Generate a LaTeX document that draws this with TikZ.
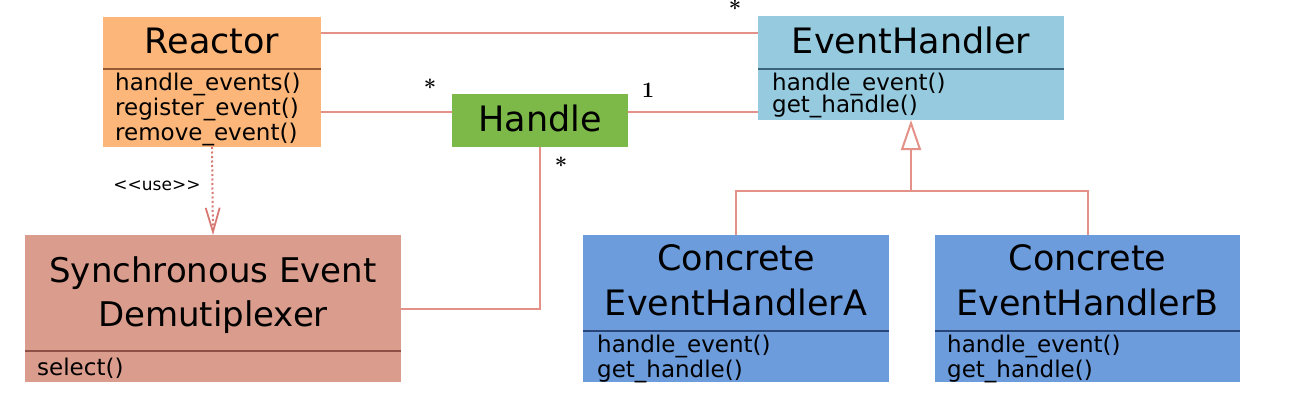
\documentclass[tikz,border=0pt]{standalone}
\usepackage{fontspec}
\newfontfamily\cs{DejaVu Sans}
\usetikzlibrary{arrows.meta}
\definecolor{reactorC}{RGB}{252,182,122}
\definecolor{reactorS}{RGB}{150,90,50}
\definecolor{handleC}{RGB}{124,185,72}
\definecolor{ehC}{RGB}{150,202,222}
\definecolor{ehS}{RGB}{60,100,120}
\definecolor{syncC}{RGB}{218,156,140}
\definecolor{syncS}{RGB}{140,80,70}
\definecolor{concC}{RGB}{108,156,220}
\definecolor{concS}{RGB}{40,70,120}
\definecolor{lineC}{RGB}{228,145,135}
\definecolor{dotC}{RGB}{215,120,115}
\begin{document}
\begin{tikzpicture}[x=1pt,y=-1pt,
  box/.style={draw=none, inner sep=0pt, outer sep=0pt},
  titletext/.style={font=\cs\fontsize{35}{40}\selectfont, anchor=base, inner sep=0pt},
  methtext/.style={font=\cs\fontsize{23}{26}\selectfont, anchor=base west, inner sep=0pt},
  conn/.style={draw=lineC, line width=2pt},
  sepline/.style={line width=1.5pt},
  multlabel/.style={font=\bfseries\fontsize{22}{24}\selectfont, inner sep=0pt}]
\useasboundingbox (0,0) rectangle (1290,420);
% boxes
\node[box, fill=reactorC, minimum width=218pt, minimum height=130pt] (reactor) at (212,82) {};
\node[box, fill=handleC, minimum width=176pt, minimum height=53pt] (handle) at (540,120.5) {};
\node[box, fill=ehC, minimum width=306pt, minimum height=104pt] (eh) at (911,68) {};
\node[box, fill=syncC, minimum width=376pt, minimum height=147pt] (sync) at (213,308.5) {};
\node[box, fill=concC, minimum width=306pt, minimum height=147pt] (ca) at (736,308.5) {};
\node[box, fill=concC, minimum width=305pt, minimum height=147pt] (cb) at (1087.5,308.5) {};
% separators
\draw[sepline, reactorS] (103,69) -- (321,69);
\draw[sepline, ehS] (758,69) -- (1064,69);
\draw[sepline, syncS] (25,351) -- (401,351);
\draw[sepline, concS] (583,331) -- (889,331);
\draw[sepline, concS] (935,331) -- (1240,331);
% texts
\node[titletext] (reactorT) at (212,54) {Reactor};
\node[methtext] (rm1) at (115,90) {handle\_events()};
\node[methtext] (rm2) at (115,115) {register\_event()};
\node[methtext] (rm3) at (115,140) {remove\_event()};
\node[titletext] (handleT) at (540,131) {Handle};
\node[titletext] (ehT) at (911,54) {EventHandler};
\node[methtext] (em1) at (772,90) {handle\_event()};
\node[methtext] (em2) at (772,112) {get\_handle()};
\node[titletext, font=\cs\fontsize{34}{40}\selectfont] (syncT1) at (213,282) {Synchronous Event};
\node[titletext, font=\cs\fontsize{34}{40}\selectfont] (syncT2) at (213,326) {Demutiplexer};
\node[methtext] (sm1) at (37,375) {select()};
\node[titletext] (caT1) at (736,270) {Concrete};
\node[titletext] (caT2) at (736,315) {EventHandlerA};
\node[methtext] (cam1) at (597,352) {handle\_event()};
\node[methtext] (cam2) at (597,377) {get\_handle()};
\node[titletext] (cbT1) at (1087.5,270) {Concrete};
\node[titletext] (cbT2) at (1087.5,315) {EventHandlerB};
\node[methtext] (cbm1) at (947,352) {handle\_event()};
\node[methtext] (cbm2) at (947,377) {get\_handle()};
% helper coordinates
\coordinate (y33) at (0,33);
\coordinate (y112) at (0,112);
\coordinate (hb) at (911,191);
% connectors
\draw[conn] (reactor.east |- y33) -- (eh.west |- y33);
\draw[conn] (reactor.east |- y112) -- (handle.west |- y112);
\draw[conn] (handle.east |- y112) -- (eh.west |- y112);
\draw[conn] (handle.south) |- (sync.east);
\draw[draw=dotC, line width=2pt, dash pattern=on 2pt off 2.5pt, -{Straight Barb[length=24pt,width=14pt,line width=1.8pt]}] (reactor.south) -- (sync.north);
\draw[conn, -{Triangle[open,length=30pt,width=20pt,line width=2pt]}] (hb) -- (eh.south);
\draw[conn] (ca.north) -- (ca.north |- hb) -- (cb.north |- hb) -- (cb.north);
% labels
\node[multlabel] (m1) at (735,8) {*};
\node[multlabel] (m2) at (430,87) {*};
\node[multlabel] (m3) at (648,90) {1};
\node[multlabel] (m4) at (561,165) {*};
\node[font=\cs\fontsize{17}{20}\selectfont, inner sep=0pt] (use) at (157,186) {<<use>>};
\end{tikzpicture}
\end{document}
